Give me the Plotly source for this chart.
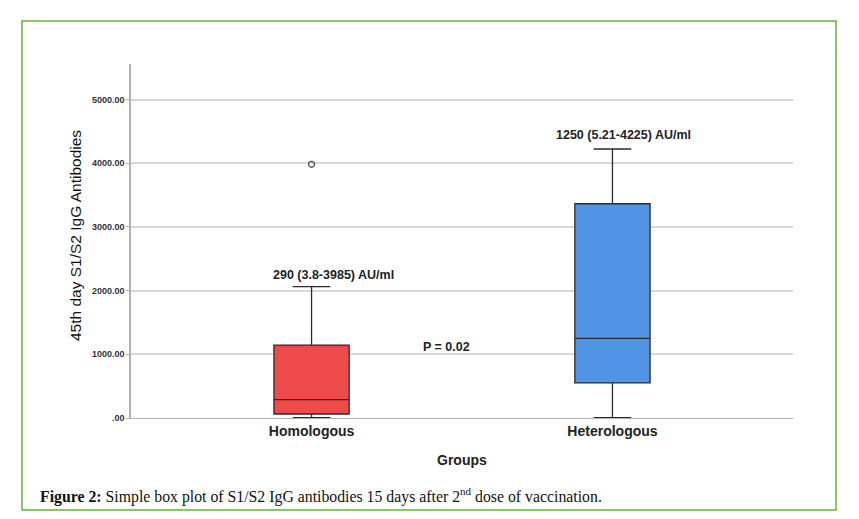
import plotly.graph_objects as go

groups = ["Homologous", "Heterologous"]
lower_fence = [3.8, 5.21]
q1 = [63, 551]
median = [290, 1250]
q3 = [1145, 3365]
upper_fence = [2063, 4225]
box_colors = ["#EE4B4B", "#5294E4"]
outlier_group = ["Homologous"]
outlier_value = [3985]
labels = ["290 (3.8-3985) AU/ml", "1250 (5.21-4225) AU/ml"]
label_y = [2250, 4440]
p_text = "P = 0.02"
tick_vals = [0, 1000, 2000, 3000, 4000, 5000]
tick_text = [".00", "1000.00", "2000.00", "3000.00", "4000.00", "5000.00"]

FONT = "Liberation Sans, Arial"

fig = go.Figure()
for i, g in enumerate(groups):
    fig.add_trace(go.Box(
        x=[g], q1=[q1[i]], median=[median[i]], q3=[q3[i]],
        lowerfence=[lower_fence[i]], upperfence=[upper_fence[i]],
        fillcolor=box_colors[i], line=dict(color="#2b2b2b", width=1.3),
        width=0.25, whiskerwidth=0.5, boxpoints=False, showlegend=False,
        hoverinfo="skip",
    ))

fig.add_trace(go.Scatter(
    x=outlier_group, y=outlier_value, mode="markers",
    marker=dict(symbol="circle-open", size=6, color="#444", line=dict(width=1.2)),
    showlegend=False, hoverinfo="skip",
))

for i, g in enumerate(groups):
    fig.add_annotation(x=g, y=label_y[i], text="<b>" + labels[i] + "</b>", showarrow=False,
                       xshift=22 if i == 0 else 11,
                       font=dict(family=FONT, size=12.5, color="#222"))
fig.add_annotation(x=0.45, y=1110, text="<b>" + p_text + "</b>", showarrow=False,
                   font=dict(family=FONT, size=12.5, color="#222"))

# Axis titles
fig.add_annotation(xref="paper", yref="paper", x=(462 - 131) / 662, y=(418 - 460) / 354,
                   xanchor="center", yanchor="middle",
                   text="<b>Groups</b>", showarrow=False,
                   font=dict(family=FONT, size=14, color="#222"))
fig.add_annotation(xref="paper", yref="paper", x=(75 - 131) / 662, y=(418 - 236) / 354,
                   xanchor="center", yanchor="middle",
                   text="45th day S1/S2 IgG Antibodies", textangle=-90, showarrow=False,
                   font=dict(family=FONT, size=15.5, color="#111"))

# Caption
fig.add_annotation(xref="paper", yref="paper", x=(38 - 131) / 662, y=(418 - 495) / 354,
                   xanchor="left", yanchor="middle",
                   text="<b>Figure 2:</b> Simple box plot of S1/S2 IgG antibodies 15 days after 2<sup>nd</sup> dose of vaccination.",
                   showarrow=False,
                   font=dict(family="Liberation Serif, DejaVu Serif, serif", size=15.8, color="#111"))

# Green frame
fig.add_shape(type="rect", xref="paper", yref="paper",
              x0=(22 - 131) / 662, x1=(836 - 131) / 662,
              y0=(418 - 510) / 354, y1=(418 - 21) / 354,
              line=dict(color="#6AAE3E", width=1.5), fillcolor="rgba(0,0,0,0)")

fig.update_layout(
    width=859, height=519,
    margin=dict(l=131, r=66, t=64, b=101),
    paper_bgcolor="white", plot_bgcolor="white",
    xaxis=dict(range=[-0.6, 1.6], showgrid=False, showline=True, linecolor="#b0b0b0",
               linewidth=1.2, ticks="", zeroline=False,
               tickvals=groups, ticktext=["<b>" + g + "</b>" for g in groups],
               tickfont=dict(family=FONT, size=14, color="#222")),
    yaxis=dict(range=[0, 5560], tickvals=tick_vals, ticktext=["<b>" + t + "</b>" for t in tick_text],
               showgrid=True, gridcolor="#d8d8d8", gridwidth=1.5,
               showline=True, linecolor="#b0b0b0", linewidth=1.5, zeroline=False,
               ticks="outside", ticklen=3, tickcolor="#b0b0b0",
               tickfont=dict(family=FONT, size=9, color="#333")),
)

fig.write_html("out.html")
